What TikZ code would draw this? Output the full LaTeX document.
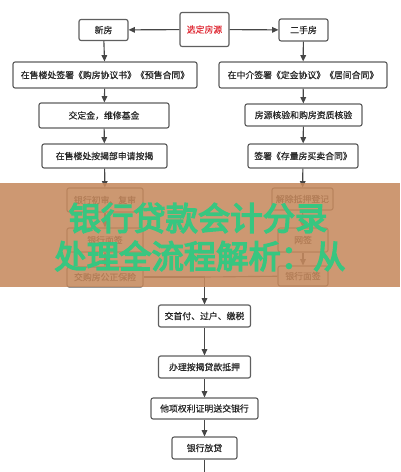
\documentclass[tikz,border=0pt]{standalone}
\usepackage{fontspec}
\setmainfont{Noto Sans CJK SC}
\newfontfamily\boxfont[FakeBold=0.4]{Noto Sans CJK SC}
\newfontfamily\bannerfont[FakeBold=4.5]{Noto Sans CJK SC}
\usepackage{tikz}
\usetikzlibrary{arrows.meta, positioning}
\definecolor{LineColor}{RGB}{70,70,70}
\definecolor{BoxColor}{RGB}{95,95,95}
\definecolor{SourceColor}{RGB}{225,50,60}
\definecolor{BandColor}{RGB}{198,138,94}
\definecolor{BannerText}{RGB}{56,198,128}
\newcommand{\px}{0.025cm}
\tikzstyle{flow} = [thick, LineColor, -{Triangle[length=4.5pt,width=4pt]}]
\tikzstyle{link} = [thick, LineColor]
\tikzset{
  stagebox/.style={draw=BoxColor, thick, rounded corners=1.5pt, fill=white,
    minimum height=22*\px, inner sep=1pt, text=black!85, font=\boxfont\fontsize{6.3}{7.5}\selectfont},
  banner/.style={BannerText, font=\bannerfont\fontsize{23}{26}\selectfont}
}
\begin{document}
\begin{tikzpicture}[x=\px, y=-\px]
                \useasboundingbox (0,0) rectangle (400,472);
                % Start
                \node[stagebox, minimum width=49*\px, minimum height=34*\px, text=SourceColor] (source) at (204.5,29.5) {选定房源};
                \node[stagebox, minimum width=49*\px, minimum height=21*\px] (newhouse) at (103.5,30) {新房};
                \node[stagebox, minimum width=49*\px] (oldhouse) at (303.5,30) {二手房};
                \draw[flow] (source) -- (newhouse);
                \draw[flow] (source) -- (oldhouse);
                
                % New house branch
                \node[stagebox, minimum width=184*\px, minimum height=26*\px] (newA) at (105,75) {在售楼处签署《购房协议书》《预售合同》};
                \node[stagebox, minimum width=130*\px, minimum height=25*\px] (newB) at (104,115.5) {交定金，维修基金};
                \node[stagebox, minimum width=125*\px, minimum height=24*\px] (newC) at (104.5,156) {在售楼处按揭部申请按揭};
                \node[stagebox, minimum width=76*\px, minimum height=24*\px] (newD) at (105,200) {银行初审、复审};
                \node[stagebox, minimum width=76*\px, minimum height=24*\px] (newE) at (105,240) {银行面签};
                \node[stagebox, minimum width=76*\px, minimum height=20*\px] (newF) at (105,277) {交购房公正保险};
                \draw[flow] (newhouse) -- (newA);
                \draw[flow] (newA) -- (newB);
                \draw[flow] (newB) -- (newC);
                \draw[flow] (newC) -- (newD);
                \draw[flow] (newD) -- (newE);
                \draw[flow] (newE) -- (newF);
                
                % Second-hand branch
                \node[stagebox, minimum width=168*\px, minimum height=26*\px] (oldA) at (303,75) {在中介签署《定金协议》《居间合同》};
                \node[stagebox, minimum width=117*\px] (oldB) at (303.5,115) {房源核验和购房资质核验};
                \node[stagebox, minimum width=110*\px, minimum height=24*\px] (oldC) at (303,156) {签署《存量房买卖合同》};
                \node[stagebox, minimum width=61*\px] (oldD) at (302.5,199) {解除抵押登记};
                \node[stagebox, minimum width=50*\px, minimum height=24*\px] (oldE) at (303,240) {网签};
                \node[stagebox, minimum width=50*\px, minimum height=20*\px] (oldF) at (303,276) {银行面签};
                \draw[flow] (oldhouse) -- (oldA);
                \draw[flow] (oldA) -- (oldB);
                \draw[flow] (oldB) -- (oldC);
                \draw[flow] (oldC) -- (oldD);
                \draw[flow] (oldD) -- (oldE);
                \draw[flow] (oldE) -- (oldF);
                
                % Common steps
                \coordinate (merge) at (204.5,277);
                \node[stagebox, minimum width=92*\px] (payment) at (204.5,316) {交首付、过户、缴税};
                \node[stagebox, minimum width=92*\px] (mortgage) at (204.5,367) {办理按揭贷款抵押};
                \node[stagebox, minimum width=107*\px, minimum height=21*\px] (certificate) at (204.5,408.5) {他项权利证明送交银行};
                \node[stagebox, minimum width=65*\px] (release) at (204.5,448) {银行放贷};
                \coordinate (bottom) at (204.5,472);
                \draw[link] (newF) -- (merge);
                \draw[link] (oldF) -- (merge);
                \draw[flow] (merge) -- (payment);
                \draw[flow] (payment) -- (mortgage);
                \draw[flow] (mortgage) -- (certificate);
                \draw[flow] (certificate) -- (release);
                \draw[link] (release) -- (bottom);
                
                % Banner
                \fill[BandColor, opacity=0.88] (0,183) rectangle (400,287);
                \node[banner] (titleA) at (198,218) {银行贷款会计分录};
                \node[banner] (titleB) at (200,256) {处理全流程解析：从};
\end{tikzpicture}
\end{document}
